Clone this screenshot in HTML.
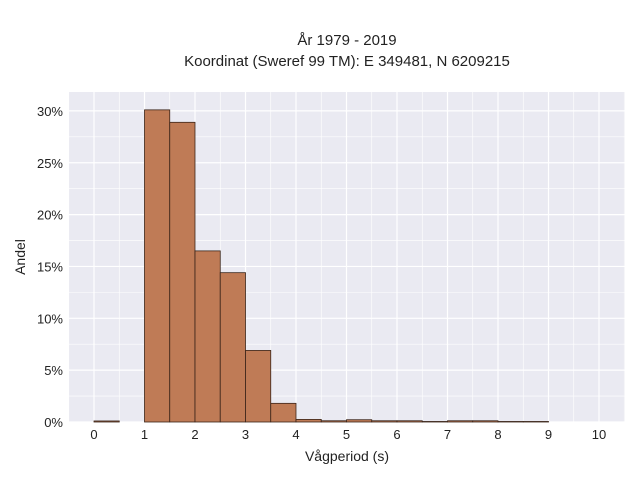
<!DOCTYPE html>
<html><head><meta charset="utf-8"><style>
body{margin:0;background:#fff;font-family:"Liberation Sans",sans-serif}
</style></head><body>
<svg width="640" height="480">
<text x="347" y="45" text-anchor="middle" font-size="15" fill="#222">År 1979 - 2019</text>
<text x="347" y="66" text-anchor="middle" font-size="15" fill="#222">Koordinat (Sweref 99 TM): E 349481, N 6209215</text>
<rect x="69" y="92" width="556" height="330" fill="#eaeaf2"/>
<g id="grid"></g>
<g id="bars"></g>
<g id="ticks" font-size="13" fill="#222"></g>
<text x="347" y="461" text-anchor="middle" font-size="14" fill="#222">Vågperiod (s)</text>
<text transform="translate(25,257) rotate(-90)" text-anchor="middle" font-size="14" fill="#222">Andel</text>
</svg>
<script>
const binStarts=[0,0.5,1,1.5,2,2.5,3,3.5,4,4.5,5,5.5,6,6.5,7,7.5,8,8.5];
const shares=[0.1,0,30.1,28.9,16.5,14.4,6.9,1.8,0.25,0.12,0.22,0.12,0.12,0.05,0.12,0.12,0.05,0.05];
const xTicks=[0,1,2,3,4,5,6,7,8,9,10];
const yTicks=[0,5,10,15,20,25,30];
const NS='http://www.w3.org/2000/svg';
const X=v=>94+v*50.5, Y=v=>422-v*10.37;
function mk(t,a,p){const e=document.createElementNS(NS,t);for(const k in a)e.setAttribute(k,a[k]);p.appendChild(e);return e;}
const g=document.getElementById('grid'),b=document.getElementById('bars'),tk=document.getElementById('ticks');
for(let v=-0.5;v<=10.5;v+=0.5){const l=mk('line',{x1:X(v),x2:X(v),y1:92,y2:422,stroke:'#fff','stroke-width':Number.isInteger(v)?1.2:0.6},g);

}
for(let v=0;v<=32.5;v+=2.5){if(Y(v)<92)continue;const l=mk('line',{x1:69,x2:625,y1:Y(v),y2:Y(v),stroke:'#fff','stroke-width':v%5===0?1.2:0.6},g);

}
binStarts.forEach((s,i)=>{if(shares[i]<=0)return;const r=mk('rect',{x:X(s),y:Y(shares[i]),width:X(s+0.5)-X(s),height:Y(0)-Y(shares[i]),fill:'#bf7b56',stroke:'#3a2418','stroke-width':0.8},b);

});
xTicks.forEach(v=>{const t=mk('text',{x:X(v),y:439,'text-anchor':'middle'},tk);t.textContent=v;

});
yTicks.forEach(v=>{const t=mk('text',{x:63,y:Y(v)+5,'text-anchor':'end'},tk);t.textContent=v+'%';

});
</script>
</body></html>
